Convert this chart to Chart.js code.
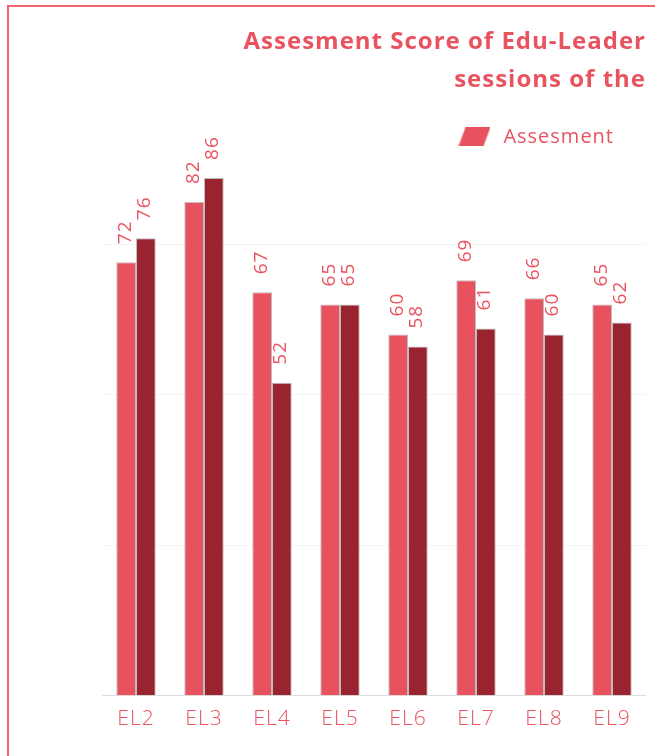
<!DOCTYPE html>
<html><head><meta charset="utf-8">
<script src="https://cdn.jsdelivr.net/npm/chart.js@4.4.0/dist/chart.umd.min.js"></script>
<style>
html,body{margin:0;padding:0;overflow:hidden;background:#fff;width:655px;height:756px;}
#frame{position:absolute;left:7px;top:5px;width:800px;height:800px;border-left:2px solid #f5646f;border-top:2px solid #f5646f;}
#c{position:absolute;left:0;top:0;width:646px;height:760px;}
</style></head><body>
<div id="frame"><canvas id="c" width="646" height="760"></canvas></div>
<script>
const categories = ['EL2','EL3','EL4','EL5','EL6','EL7','EL8','EL9'];
const assesmentScores = [72, 82, 67, 65, 60, 69, 66, 65];
const secondScores = [76, 86, 52, 65, 58, 61, 60, 62];
const titleLines = ['Assesment Score of Edu-Leader', 'sessions of the'];
const legendLabel = 'Assesment';

const TEXT = '#e9535f';
const PINK = '#e8525f';
const DARK = '#992430';

const sw = document.createElement('canvas');
sw.width = 32; sw.height = 19;
const g = sw.getContext('2d');
g.fillStyle = PINK;
g.beginPath(); g.moveTo(7,0); g.lineTo(32,0); g.lineTo(25,19); g.lineTo(0,19); g.closePath(); g.fill();

const spacing = {
  id: 'spacing',
  beforeLayout(chart) { chart.ctx.letterSpacing = '1px'; },
  beforeDraw(chart) { chart.ctx.letterSpacing = '1px'; }
};

const valueLabels = {
  id: 'valueLabels',
  afterDatasetsDraw(chart) {
    const ctx = chart.ctx;
    ctx.save();
    ctx.font = '400 19px "Open Sans"';
    ctx.fillStyle = TEXT;
    ctx.textAlign = 'left';
    ctx.textBaseline = 'middle';
    chart.data.datasets.forEach((ds, i) => {
      const meta = chart.getDatasetMeta(i);
      meta.data.forEach((el, j) => {
        ctx.save();
        ctx.translate(el.x - 1, el.y - 18);
        ctx.rotate(-Math.PI / 2);
        ctx.fillText(String(ds.data[j]), 0, 0);
        ctx.restore();
      });
    });
    ctx.restore();
  }
};

new Chart(document.getElementById('c'), {
  type: 'bar',
  data: {
    labels: categories,
    datasets: [
      { label: legendLabel, data: assesmentScores, backgroundColor: PINK, borderColor: 'rgba(110,110,110,0.45)', borderWidth: 1, pointStyle: sw },
      { label: '', data: secondScores, backgroundColor: DARK, borderColor: 'rgba(110,110,110,0.45)', borderWidth: 1 }
    ]
  },
  options: {
    responsive: false,
    animation: false,
    devicePixelRatio: 1,
    layout: { padding: { left: 93, right: 9, top: 0, bottom: 32 } },
    datasets: { bar: { categoryPercentage: 0.58, barPercentage: 1 } },
    plugins: {
      title: {
        display: true, text: titleLines, align: 'end', color: TEXT,
        font: { family: '"Open Sans"', size: 24, weight: '700', lineHeight: 1.58 },
        padding: { top: 16, bottom: -4 }
      },
      legend: {
        display: true, position: 'top', align: 'end',
        labels: {
          usePointStyle: true, pointStyleWidth: 38, padding: 32, color: TEXT,
          font: { family: '"Open Sans"', size: 20, weight: '400' },
          filter: (item) => item.datasetIndex === 0
        }
      },
      tooltip: { enabled: false }
    },
    scales: {
      x: {
        grid: { display: false },
        border: { display: false },
        ticks: { color: TEXT, padding: 3, font: { family: '"Open Sans"', size: 21, weight: '300' } }
      },
      y: {
        min: 0, max: 89.5,
        ticks: { display: false, stepSize: 25 },
        border: { display: false },
        grid: {
          drawTicks: false,
          color: (c) => {
            if (!c.tick) return 'rgba(0,0,0,0)';
            if (c.tick.value === 0) return '#dedede';
            return c.tick.value % 25 === 0 ? '#f3f3f3' : 'rgba(0,0,0,0)';
          }
        }
      }
    }
  },
  plugins: [spacing, valueLabels]
});
</script>
</body></html>
